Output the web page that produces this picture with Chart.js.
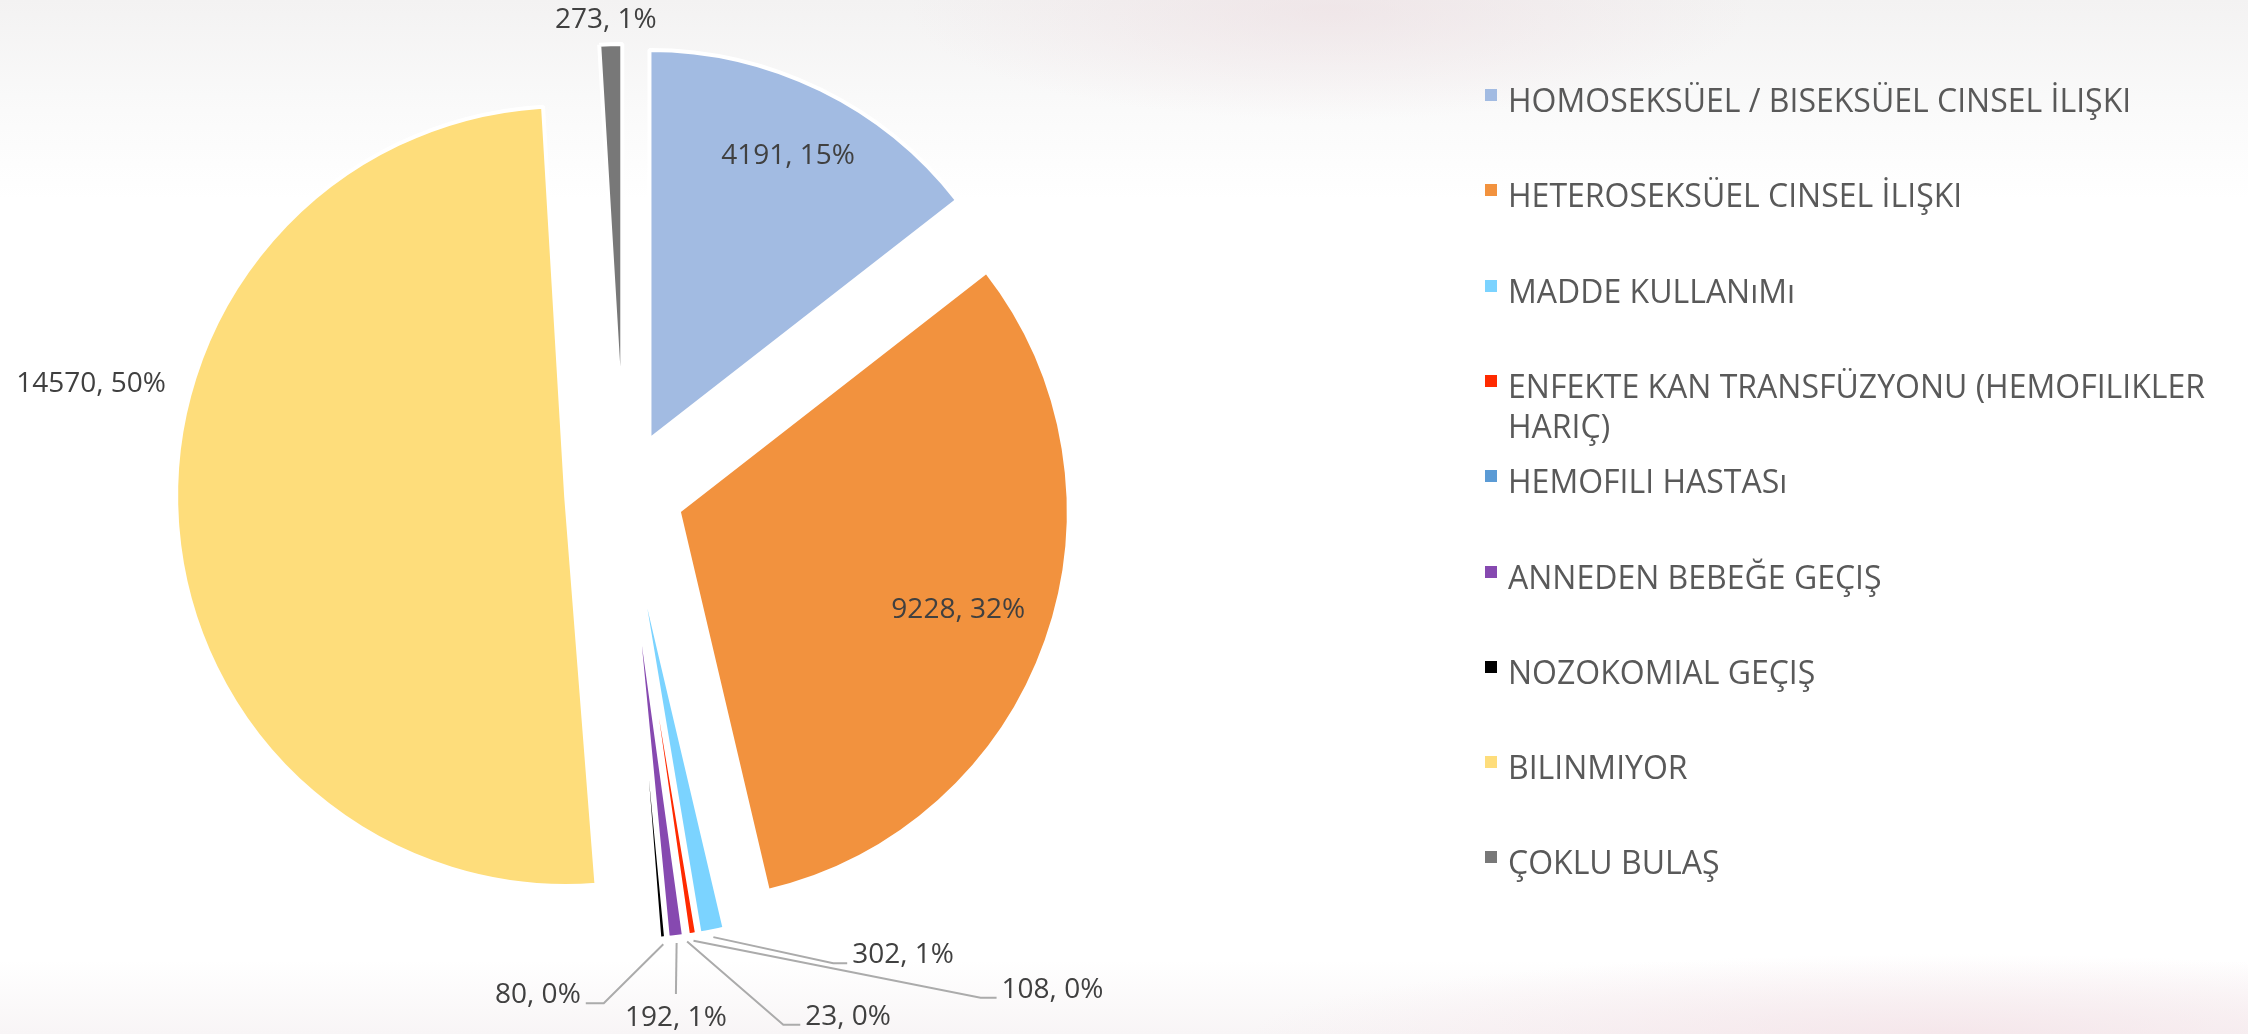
<!DOCTYPE html>
<html lang="tr">
<head>
<meta charset="utf-8">
<title>Bulaş yolları</title>
<script src="https://cdn.jsdelivr.net/npm/chart.js@4.4.1/dist/chart.umd.min.js"></script>
<style>
  html, body { margin: 0; padding: 0; }
  body {
    width: 2248px; height: 1034px; overflow: hidden; position: relative;
    font-family: 'Open Sans', sans-serif;
    background:
      radial-gradient(ellipse 420px 110px at 1330px 10px, rgba(236, 220, 224, 0.55), rgba(255, 255, 255, 0) 100%),
      radial-gradient(ellipse 700px 80px at 1950px 1034px, rgba(244, 226, 231, 0.75), rgba(255, 255, 255, 0) 100%),
      linear-gradient(to bottom, #f3f2f2 0px, #fafafa 110px, #ffffff 200px, #ffffff 960px, #f8f5f6 1034px);
  }
  #pie { position: absolute; left: 0; top: 0; }
  #legend { position: absolute; left: 1485px; top: 0; }
  .item { position: absolute; left: 0; width: 745px; }
  .swatch { position: absolute; left: 0; top: 9px; width: 12px; height: 12px; }
  .text { margin-left: 23px; font-size: 32px; line-height: 40px; color: #595959; }
</style>
</head>
<body>
<canvas id="pie" width="2248" height="1034"></canvas>
<div id="legend"></div>
<script>
// Bulaş yolu
const categories = [
    'HOMOSEKSÜEL / BISEKSÜEL CINSEL İLIŞKI',
    'HETEROSEKSÜEL CINSEL İLIŞKI',
    'MADDE KULLANıMı',
    'ENFEKTE KAN TRANSFÜZYONU (HEMOFILIKLER HARIÇ)',
    'HEMOFILI HASTASı',
    'ANNEDEN BEBEĞE GEÇIŞ',
    'NOZOKOMIAL GEÇIŞ',
    'BILINMIYOR',
    'ÇOKLU BULAŞ',
];
const cases = [4191, 9228, 302, 108, 23, 192, 80, 14570, 273];
const colors = ['#A2BBE2', '#F2923E', '#7BD3FF', '#FF2A00', '#5B9BD5', '#8649B0', '#000000', '#FEDD7B', '#787878'];

// where each data label sits (inside fraction of radius, or leader elbow from the outer edge)
const labelPlacement = [
    { inside: 0.81 },
    { inside: 0.76 },
    { elbow: [121, 32], run: 14 },
    { elbow: [288, 63], run: 16 },
    { elbow: [97, 89], run: 17 },
    { elbow: [0, 57], run: 0 },
    { elbow: [-59, 65], run: -18 },
    { free: [-86, -139] },
    { free: [-5, -24] },
];
const EXPLODE = 58;

// Excel style: percentages that add up to 100
const roundedPercents = (values) => {
    const total = values.reduce((a, b) => a + b, 0);
    const raw = values.map((v) => (v / total) * 100);
    const out = raw.map(Math.floor);
    const left = 100 - out.reduce((a, b) => a + b, 0);
    raw.map((v, i) => [v - Math.floor(v), i])
        .sort((a, b) => b[0] - a[0])
        .slice(0, left)
        .forEach(([, i]) => out[i]++);
    return out;
};
const percents = roundedPercents(cases);

// move every slice out from the centre
const explode = {
    id: 'explode',
    afterDatasetUpdate(chart, args) {
        args.meta.data.forEach((arc) => {
            const mid = (arc.startAngle + arc.endAngle) / 2;
            arc.x += Math.cos(mid) * EXPLODE;
            arc.y += Math.sin(mid) * EXPLODE;
        });
    },
};

const sliceLabels = {
    id: 'sliceLabels',
    afterDatasetsDraw(chart) {
        const ctx = chart.ctx;
        const arcs = chart.getDatasetMeta(0).data;
        ctx.save();
        ctx.font = '28px "Open Sans"';
        ctx.fillStyle = '#404040';
        ctx.strokeStyle = '#ababab';
        ctx.lineWidth = 2;
        arcs.forEach((arc, i) => {
            const p = labelPlacement[i];
            const mid = (arc.startAngle + arc.endAngle) / 2;
            const cos = Math.cos(mid);
            const sin = Math.sin(mid);
            const r = arc.outerRadius;
            const text = cases[i] + ', ' + percents[i] + '%';
            const ox = arc.x + cos * r;
            const oy = arc.y + sin * r;
            if (p.inside) {
                ctx.textAlign = 'center';
                ctx.textBaseline = 'middle';
                ctx.fillText(text, arc.x + cos * r * p.inside, arc.y + sin * r * p.inside);
            } else if (p.free) {
                ctx.textAlign = 'center';
                ctx.textBaseline = 'middle';
                ctx.fillText(text, ox + p.free[0], oy + p.free[1]);
            } else {
                const ex = ox + p.elbow[0];
                const ey = oy + p.elbow[1];
                ctx.beginPath();
                ctx.moveTo(arc.x + cos * (r + 6), arc.y + sin * (r + 6));
                ctx.lineTo(ex, ey);
                if (p.run) ctx.lineTo(ex + p.run, ey);
                ctx.stroke();
                ctx.textBaseline = 'alphabetic';
                if (p.run > 0) {
                    ctx.textAlign = 'left';
                    ctx.fillText(text, ex + p.run + 5, ey);
                } else if (p.run < 0) {
                    ctx.textAlign = 'right';
                    ctx.fillText(text, ex + p.run - 5, ey);
                } else {
                    ctx.textAlign = 'center';
                    ctx.fillText(text, ex, ey + 32);
                }
            }
        });
        ctx.restore();
    },
};

new Chart('pie', {
    type: 'pie',
    data: {
        labels: categories,
        datasets: [
            {
                data: cases,
                backgroundColor: colors,
                borderColor: '#ffffff',
                borderWidth: 4,
            },
        ],
    },
    options: {
        responsive: false,
        animation: false,
        radius: 390,
        layout: { padding: { left: 0, top: 0, right: 1000, bottom: 50 } },
        plugins: {
            legend: { display: false },
            tooltip: { enabled: false },
        },
    },
    plugins: [explode, sliceLabels],
});

// Legend
const legend = document.getElementById('legend');
categories.forEach((name, i) => {
    const item = document.createElement('div');
    item.className = 'item';
    item.style.top = (80 + i * 95.3) + 'px';
    const swatch = document.createElement('div');
    swatch.className = 'swatch';
    swatch.style.background = colors[i];
    const text = document.createElement('div');
    text.className = 'text';
    text.textContent = name;
    item.appendChild(swatch);
    item.appendChild(text);
    legend.appendChild(item);
});
</script>
</body>
</html>
